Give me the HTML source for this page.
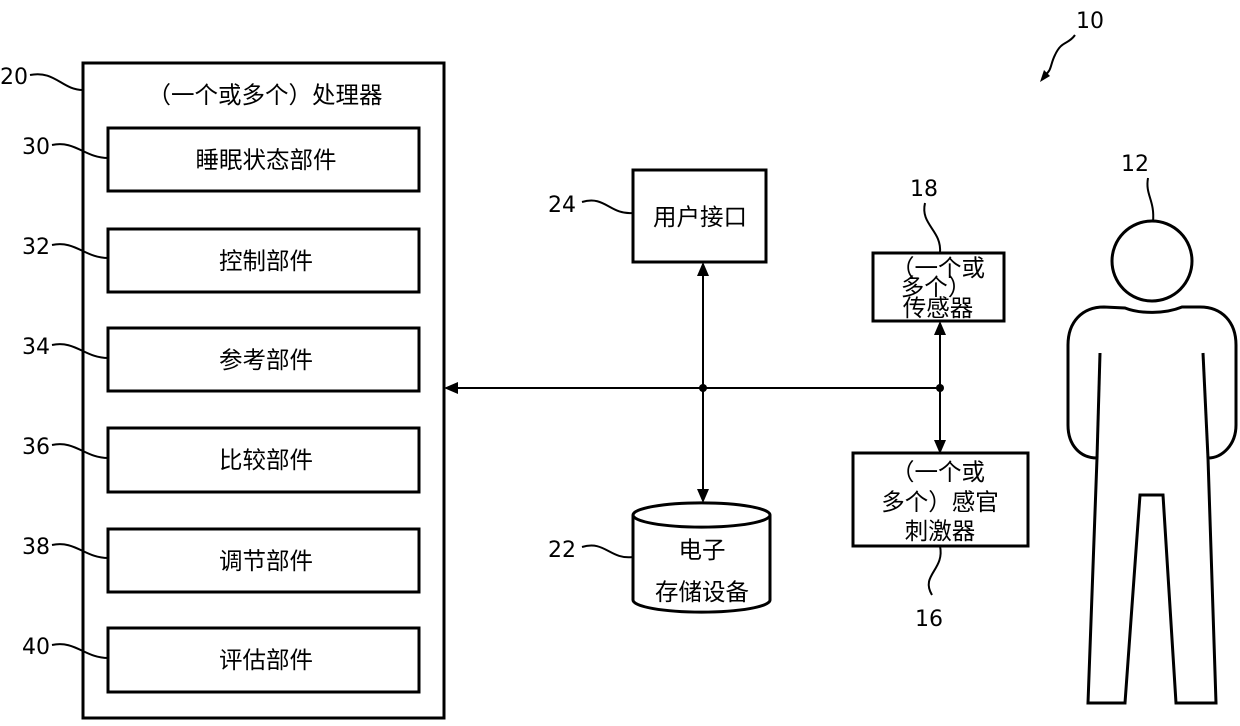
<!DOCTYPE html>
<html><head><meta charset="utf-8"><style>
html,body{margin:0;padding:0;background:#fff;}
svg text{font-family:"DejaVu Sans","Noto Sans CJK SC",sans-serif;fill:#000;}
</style></head><body>
<svg width="1240" height="721" viewBox="0 0 1240 721" xmlns="http://www.w3.org/2000/svg">
<defs><marker id="a" markerWidth="14" markerHeight="12" refX="12" refY="6" orient="auto" markerUnits="userSpaceOnUse"><path d="M0,0 L14,6 L0,12 Z" fill="#000"/></marker></defs>
<g fill="none" stroke="#000" stroke-width="3">
<rect x="83" y="63" width="361" height="655"/>
<rect x="108" y="128" width="311" height="63"/>
<rect x="108" y="229" width="311" height="63"/>
<rect x="108" y="328" width="311" height="63"/>
<rect x="108" y="428" width="311" height="64"/>
<rect x="108" y="529" width="311" height="63"/>
<rect x="108" y="628" width="311" height="64"/>
<rect x="633" y="170" width="133" height="92"/>
<rect x="873" y="253" width="131" height="68"/>
<rect x="853" y="453" width="175" height="93"/>
<path d="M633,515 L633,600 A68,12 0 0 0 770,600 L770,515 A68,12 0 0 0 633,515 A68,12 0 0 0 770,515"/>
</g>
<g fill="none" stroke="#000" stroke-width="2">
<line x1="940" y1="388" x2="446" y2="388" marker-end="url(#a)"/>
<line x1="703" y1="388" x2="703" y2="264" marker-end="url(#a)"/>
<line x1="703" y1="388" x2="703" y2="501" marker-end="url(#a)"/>
<line x1="940" y1="388" x2="940" y2="323" marker-end="url(#a)"/>
<line x1="940" y1="388" x2="940" y2="452" marker-end="url(#a)"/>
<path d="M30,75 C55,70 62,90 83,90"/>
<path d="M52,145 C75,140 85,158 108,158"/>
<path d="M52,245 C75,240 85,258 108,258"/>
<path d="M52,345 C75,340 85,358 108,358"/>
<path d="M52,445 C75,440 85,458 108,458"/>
<path d="M52,545 C75,540 85,558 108,558"/>
<path d="M52,645 C75,640 85,658 108,658"/>
<path d="M582,202 C605,195 610,215 633,213"/>
<path d="M582,547 C605,540 610,560 633,557"/>
<path d="M925,203 C920,225 942,230 940,253"/>
<path d="M940,546 C945,570 920,575 932,595"/>
<path d="M1148,178 C1145,195 1155,200 1153,222"/>
<path d="M1075,35 C1068,45 1062,40 1055,55 C1050,65 1052,70 1045,75"/>
</g>
<path d="M1040,82 L1044,70 L1050,76 Z" fill="#000"/>
<circle cx="703" cy="388" r="4"/><circle cx="940" cy="388" r="4"/>
<g fill="none" stroke="#000" stroke-width="3">
<circle cx="1152" cy="261" r="40"/>
<path d="M1125,308 C1140,314 1165,314 1182,307 L1200,307 C1222,307 1236,322 1236,345 L1236,425 C1236,445 1222,458 1208,458 L1216,703 L1176,703 L1163,495 L1140,495 L1125,703 L1088,703 L1097,458 C1080,458 1068,445 1068,425 L1068,345 C1068,322 1082,307 1104,307 Z"/>
<line x1="1100" y1="353" x2="1097" y2="458"/>
<line x1="1203" y1="353" x2="1208" y2="458"/>
</g>
<g font-size="22">
<text x="0" y="84">20</text><text x="22" y="154">30</text><text x="22" y="254">32</text>
<text x="22" y="354">34</text><text x="22" y="454">36</text><text x="22" y="554">38</text>
<text x="22" y="654">40</text><text x="548" y="212">24</text><text x="548" y="557">22</text>
<text x="910" y="196">18</text><text x="915" y="626">16</text><text x="1121" y="171">12</text>
<text x="1076" y="28">10</text>
</g>
<g font-size="23.5" text-anchor="middle">
<text x="265" y="103">（一个或多个）处理器</text>
<text x="266" y="168">睡眠状态部件</text>
<text x="266" y="269">控制部件</text>
<text x="266" y="368">参考部件</text>
<text x="266" y="468">比较部件</text>
<text x="266" y="569">调节部件</text>
<text x="266" y="668">评估部件</text>
<text x="700" y="225">用户接口</text>
<text x="702" y="558">电子</text>
<text x="702" y="600">存储设备</text>
<text x="938" y="276">（一个或</text>
<text x="936" y="295">多个）</text>
<text x="938" y="316">传感器</text>
<text x="938" y="480">（一个或</text>
<text x="940" y="510">多个）感官</text>
<text x="940" y="539">刺激器</text>
</g>
</svg>
</body></html>
